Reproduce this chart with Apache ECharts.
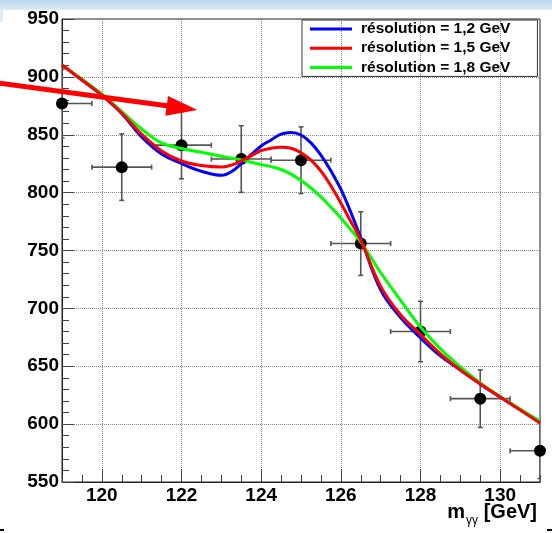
<!DOCTYPE html>
<html>
<head>
<meta charset="utf-8">
<script src="https://cdn.jsdelivr.net/npm/echarts@6/dist/echarts.min.js"></script>
<style>
  html, body { margin: 0; padding: 0; background: #ffffff; }
  #chart { width: 552px; height: 533px; }
</style>
</head>
<body>
<div id="chart"></div>
<script>
// Diphoton invariant mass (GeV): sampling grid for the expected-shape curves
const massGrid = [119, 119.5, 120, 120.5, 121, 121.5, 122, 122.5, 123, 123.25, 123.5, 124, 124.25, 124.5, 124.75,
                  125, 125.25, 125.5, 125.75, 126, 126.25, 126.5, 127, 127.5, 128, 128.5, 129, 129.5, 130, 130.5, 131];

// Expected event counts for three mass resolutions
const curveRes12 = [910.3, 897.3, 884.3, 868.4, 848.1, 833.4, 825.2, 818.5, 815.0, 818.0, 825.0, 840.3, 845.5, 850.6, 852.0,
                    849.8, 843.0, 832.5, 819.0, 803.0, 783.0, 761.0, 716.0, 692.0, 674.5, 658.9, 646.8, 634.7, 623.4, 612.6, 601.8];
const curveRes15 = [910.3, 897.3, 884.3, 868.8, 850.6, 836.0, 827.3, 823.4, 822.1, 823.8, 827.3, 836.2, 838.3, 839.3, 838.3,
                    834.5, 828.0, 818.7, 806.0, 791.0, 775.0, 759.0, 719.0, 694.5, 677.5, 660.6, 646.8, 634.7, 623.4, 612.2, 601.0];
const curveRes18 = [910.3, 898.2, 885.2, 870.0, 855.0, 842.9, 838.1, 834.8, 831.5, 829.8, 828.2, 824.3, 822.5, 820.0, 816.0,
                    810.5, 804.0, 796.3, 787.5, 778.0, 768.0, 757.5, 731.0, 707.0, 683.9, 665.0, 649.4, 635.6, 623.9, 613.1, 602.7];

const seriesNames = ['résolution = 1,2 GeV', 'résolution = 1,5 GeV', 'résolution = 1,8 GeV'];
const seriesColors = ['#0000ff', '#ff0000', '#00ff00'];

// Pseudo-data points with their uncertainties
const pointMass   = [119, 120.5, 122, 123.5, 125, 126.5, 128, 129.5, 131];
const pointCounts = [877, 822, 841, 829, 828, 756, 680, 622, 577];
const pointErrX   = [0.75, 0.75, 0.75, 0.75, 0.75, 0.75, 0.75, 0.75, 0.75];
const pointErrY   = [29.6, 28.7, 29.0, 28.8, 28.8, 27.5, 26.1, 24.9, 24.0];

// Axis ticks
const xMajorTicks = [120, 122, 124, 126, 128, 130];
const xRange = [119, 131];
const yRange = [550, 950];

// Annotation arrow (tail, tip) in data units
const arrowTail = [117.44, 894.5];
const arrowTip  = [122.4, 871.4];

const FONT = '"Liberation Sans", Arial, Helvetica, sans-serif';

const pairs = (xs, ys) => xs.map((x, i) => [x, ys[i]]);

const chart = echarts.init(document.getElementById('chart'), null, { renderer: 'canvas' });

const curveSeries = [
  { name: seriesNames[0], data: pairs(massGrid, curveRes12), color: seriesColors[0] },
  { name: seriesNames[2], data: pairs(massGrid, curveRes18), color: seriesColors[2] },
  { name: seriesNames[1], data: pairs(massGrid, curveRes15), color: seriesColors[1] }
].map(s => ({
  type: 'line',
  name: s.name,
  data: s.data,
  smooth: 0.4,
  showSymbol: false,
  symbol: 'none',
  color: s.color,
  lineStyle: { color: s.color, width: 3 },
  z: 4,
  animation: false
}));

const option = {
  animation: false,
  backgroundColor: '#ffffff',
  grid: {
    left: 62, right: 12, top: 19, bottom: 51,
    show: true, borderColor: '#222', borderWidth: 1, backgroundColor: 'transparent'
  },
  legend: {
    data: seriesNames,
    orient: 'vertical',
    left: 302, top: 20,
    padding: [1, 27, 1, 8],
    itemGap: 3.2,
    itemWidth: 42,
    itemHeight: 3,
    icon: 'rect',
    borderColor: '#333',
    borderWidth: 1,
    backgroundColor: 'transparent',
    textStyle: { fontFamily: FONT, fontWeight: 'bold', fontSize: 15.5, color: '#000', lineHeight: 16, padding: [0, 0, 0, 4] }
  },
  xAxis: [
    {
      type: 'value', min: xRange[0], max: xRange[1], position: 'bottom',
      axisLine: { show: true, lineStyle: { color: '#222', width: 1 } },
      axisTick: { show: true, inside: true, length: 13, customValues: xMajorTicks, lineStyle: { color: '#444' } },
      axisLabel: { show: true, customValues: xMajorTicks, margin: 4, fontFamily: FONT, fontWeight: 'bold', fontSize: 19, color: '#000' },
      splitLine: { show: true, lineStyle: { type: 'dotted', color: '#8a8a8a', width: 1 } },
      minorTick: { show: false }
    },
    {
      type: 'value', min: xRange[0], max: xRange[1], interval: 0.5, position: 'bottom', offset: 0,
      axisLine: { show: false },
      axisTick: { show: true, inside: true, length: 7, lineStyle: { color: '#444' } },
      axisLabel: { show: false },
      splitLine: { show: false }
    }
  ],
  yAxis: {
    type: 'value', min: yRange[0], max: yRange[1], interval: 50,
    axisLine: { show: true, lineStyle: { color: '#222', width: 1 } },
    axisTick: { show: true, inside: true, length: 12, lineStyle: { color: '#444' } },
    minorTick: { show: true, splitNumber: 5, length: 7, lineStyle: { color: '#444' } },
    axisLabel: { margin: 3, fontFamily: FONT, fontWeight: 'bold', fontSize: 19, color: '#000' },
    splitLine: { show: true, lineStyle: { type: 'dotted', color: '#8a8a8a', width: 1 } }
  },
  graphic: [
    {
      type: 'rect', left: 0, top: 0, z: -10, silent: true,
      shape: { width: 552, height: 10 },
      style: { fill: new echarts.graphic.LinearGradient(0, 0, 0, 1, [
        { offset: 0, color: '#b9d7ec' }, { offset: 1, color: '#dcebf6' }]) }
    },
    {
      type: 'rect', left: 0, top: 10, z: -10, silent: true,
      shape: { width: 3, height: 12 },
      style: { fill: '#dcebf6' }
    },
    { type: 'rect', left: 0, top: 529, silent: true, shape: { width: 4, height: 2 }, style: { fill: '#000' } },
    { type: 'rect', left: 547, top: 529, silent: true, shape: { width: 5, height: 2 }, style: { fill: '#000' } },
    {
      type: 'text', right: 15, top: 502, z: 10, silent: true,
      style: {
        text: '{m|m}{s|γγ}{m| [GeV]}',
        fill: '#000',
        rich: {
          m: { fontFamily: FONT, fontWeight: 'bold', fontSize: 20, lineHeight: 23, fill: '#000' },
          s: { fontFamily: FONT, fontWeight: 'normal', fontSize: 12, lineHeight: 12, verticalAlign: 'bottom', fill: '#000', padding: [0, 0, -3, 1] }
        }
      }
    }
  ],
  series: [
    {
      type: 'custom',
      name: 'errors',
      clip: true,
      z: 2,
      data: pointMass.map((x, i) => [x, pointCounts[i], pointErrX[i], pointErrY[i]]),
      encode: { x: 0, y: 1 },
      renderItem: function (params, api) {
        const x = api.value(0), y = api.value(1), ex = api.value(2), ey = api.value(3);
        const l = api.coord([x - ex, y]), r = api.coord([x + ex, y]);
        const t = api.coord([x, y + ey]), b = api.coord([x, y - ey]);
        const st = { stroke: '#555', lineWidth: 1.6 };
        const cap = 2.5;
        return {
          type: 'group',
          children: [
            { type: 'line', shape: { x1: l[0], y1: l[1], x2: r[0], y2: r[1] }, style: st },
            { type: 'line', shape: { x1: t[0], y1: t[1], x2: b[0], y2: b[1] }, style: st },
            { type: 'line', shape: { x1: l[0], y1: l[1] - cap, x2: l[0], y2: l[1] + cap }, style: st },
            { type: 'line', shape: { x1: r[0], y1: r[1] - cap, x2: r[0], y2: r[1] + cap }, style: st },
            { type: 'line', shape: { x1: t[0] - cap, y1: t[1], x2: t[0] + cap, y2: t[1] }, style: st },
            { type: 'line', shape: { x1: b[0] - cap, y1: b[1], x2: b[0] + cap, y2: b[1] }, style: st }
          ]
        };
      }
    },
    {
      type: 'scatter',
      name: 'points',
      clip: false,
      z: 3,
      symbol: 'circle',
      symbolSize: 12,
      itemStyle: { color: '#000', opacity: 1 },
      data: pairs(pointMass, pointCounts)
    },
    ...curveSeries,
    {
      type: 'custom',
      name: 'arrow',
      clip: false,
      z: 6,
      data: [[arrowTail[0], arrowTail[1], arrowTip[0], arrowTip[1]]],
      encode: { x: [0, 2], y: [1, 3] },
      renderItem: function (params, api) {
        const p0 = api.coord([api.value(0), api.value(1)]);
        const p1 = api.coord([api.value(2), api.value(3)]);
        const dx = p1[0] - p0[0], dy = p1[1] - p0[1];
        const len = Math.sqrt(dx * dx + dy * dy);
        const ux = dx / len, uy = dy / len;
        const headLen = 31, headHalf = 10;
        const bx = p1[0] - ux * headLen, by = p1[1] - uy * headLen;
        return {
          type: 'group',
          children: [
            { type: 'line', shape: { x1: p0[0], y1: p0[1], x2: bx + ux * 2, y2: by + uy * 2 },
              style: { stroke: '#ff0000', lineWidth: 5 } },
            { type: 'polygon', shape: { points: [
                [p1[0], p1[1]],
                [bx - uy * headHalf, by + ux * headHalf],
                [bx + uy * headHalf, by - ux * headHalf]
              ] }, style: { fill: '#ff0000' } }
          ]
        };
      }
    }
  ]
};

chart.setOption(option);
</script>
</body>
</html>
